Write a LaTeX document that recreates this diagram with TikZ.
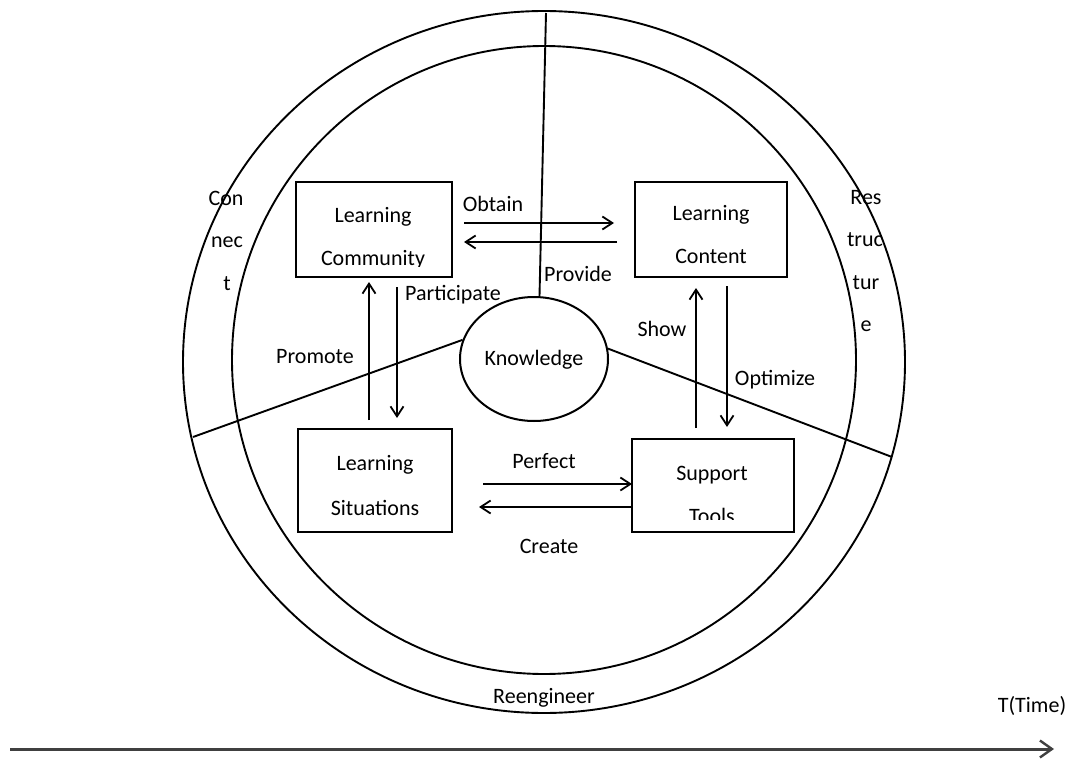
\documentclass[tikz,border=0pt]{standalone}
\usepackage{fontspec}
\setmainfont{Carlito}
\usetikzlibrary{arrows.meta,shapes.geometric,calc}
\begin{document}
\begin{tikzpicture}[x=1pt,y=-1pt,
  ln/.style={line width=1.9pt},
  box/.style={draw,line width=2.1pt,inner sep=0pt},
  lbl/.style={anchor=base,inner sep=0pt,font=\fontsize{22}{26}\selectfont},
  arr/.style={line width=1.8pt,-{Straight Barb[length=10pt,width=13pt,line width=1.8pt]}},
  taxis/.style={line width=3pt,draw=black!75,-{Straight Barb[length=12pt,width=17pt,line width=2.4pt]}}]
\useasboundingbox (0,0) rectangle (1071,760);

% circles
\draw[ln] (544,362) ellipse [x radius=361pt, y radius=351pt];
\draw[ln] (544,360) ellipse [x radius=312pt, y radius=314pt];

% knowledge
\node[draw,ellipse,line width=2pt,minimum width=148pt,minimum height=124pt,inner sep=0pt] (kn) at (534,359) {};
\node[lbl] (knt) at (534,365) {Knowledge};

% dividing lines
\coordinate (otop) at (546,13);
\coordinate (oleft) at (193,437);
\coordinate (oright) at (892,457);
\draw[ln] (otop) -- (kn.85);
\draw[ln] (oleft) -- (kn.165);
\draw[ln] (oright) -- (kn.8);

% boxes
\node[box,minimum width=156pt,minimum height=95pt] (lc) at (374,229.5) {};
\node[box,minimum width=152pt,minimum height=95pt] (lt) at (711,229.5) {};
\node[box,minimum width=154pt,minimum height=103pt] (ls) at (375,480.5) {};
\node[box,minimum width=162pt,minimum height=93pt] (st) at (713,485.5) {};

% box texts
\node[lbl] (lc1) at (373,222) {Learning};
\begin{scope}
  \clip (296,182) rectangle (452,266);
  \node[lbl] (lc2) at (373,265) {Community};
\end{scope}
\node[lbl] (lt1) at (711,220) {Learning};
\node[lbl] (lt2) at (711,263) {Content};
\node[lbl] (ls1) at (375,470) {Learning};
\node[lbl] (ls2) at (375,515) {Situations};
\node[lbl] (st1) at (712,480) {Support};
\begin{scope}
  \clip (632,439) rectangle (794,519);
  \node[lbl] (st2) at (712,523) {Tools};
\end{scope}

% connector end points
\coordinate (ob1) at (464,223);  \coordinate (ob2) at (614,223);
\coordinate (pr1) at (617,242);  \coordinate (pr2) at (464,242);
\coordinate (pm1) at (369,420);  \coordinate (pm2) at (369,282);
\coordinate (pa1) at (397,287);  \coordinate (pa2) at (397,418);
\coordinate (sh1) at (696,428);  \coordinate (sh2) at (696,288);
\coordinate (op1) at (727,286);  \coordinate (op2) at (727,427);
\coordinate (pf1) at (483,484);  \coordinate (pf2) at (632,484);
\coordinate (cr1) at (632,507);  \coordinate (cr2) at (479,507);

\draw[arr] (ob1) -- (ob2);
\draw[arr] (pr1) -- (pr2);
\draw[arr] (pm1) -- (pm2);
\draw[arr] (pa1) -- (pa2);
\draw[arr] (sh1) -- (sh2);
\draw[arr] (op1) -- (op2);
\draw[arr] (pf1) -- (pf2);
\draw[arr] (cr1) -- (cr2);

% arrow labels
\node[lbl] (tob) at (493,211) {Obtain};
\node[lbl] (tpr) at (578,281) {Provide};
\node[lbl] (tpa) at (453,300) {Participate};
\node[lbl] (tpm) at (315,363) {Promote};
\node[lbl] (tsh) at (662,336) {Show};
\node[lbl] (top) at (775,385) {Optimize};
\node[lbl] (tpf) at (544,468) {Perfect};
\node[lbl] (tcr) at (549,553) {Create};

% ring labels
\node[lbl] (c1) at (226,205) {Con};
\node[lbl] (c2) at (227,247) {nec};
\node[lbl] (c3) at (227,290) {t};
\node[lbl] (r1) at (866,204) {Res};
\node[lbl] (r2) at (865,246) {truc};
\node[lbl] (r3) at (866,289) {tur};
\node[lbl] (r4) at (866,331) {e};
\node[lbl] (re) at (544,703) {Reengineer};

% time axis
\coordinate (ta1) at (10,749);
\coordinate (ta2) at (1054,749);
\draw[taxis] (ta1) -- (ta2);
\node[lbl] (tt) at (1032,712) {T(Time)};
\end{tikzpicture}
\end{document}
